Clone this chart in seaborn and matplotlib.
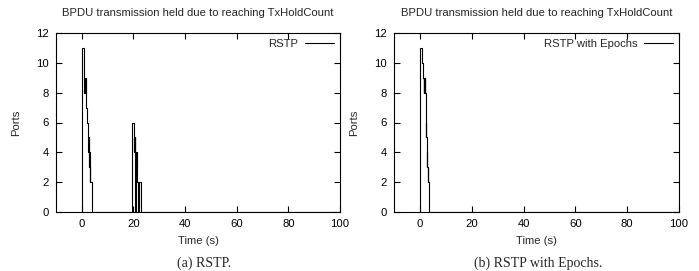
import matplotlib
matplotlib.use("Agg")
import matplotlib.pyplot as plt
import seaborn as sns
import pandas as pd

# ---- data ----
rstp_t = [-0.1, 0.0, 0.9, 1.0, 1.1, 1.2, 1.3, 1.4, 1.5, 1.6, 1.7, 2.0, 2.3, 2.5, 2.6, 2.7,
          2.8, 2.9, 3.0, 3.1, 3.2, 3.9,
          19.6, 20.2, 20.3, 20.4, 20.5, 20.6, 20.7, 20.8, 20.9, 21.0, 21.1, 21.2, 21.3,
          21.4, 21.9, 22.0, 22.9, 100.0]
rstp_v = [0, 11, 9, 8, 9, 8, 9, 8, 9, 8, 7, 6, 5, 4, 5, 4,
          3, 4, 2, 3, 2, 0,
          6, 5, 4, 5, 4, 5, 0, 4, 3, 4, 3, 4, 3,
          2, 0, 2, 0, 0]

epoch_t = [-0.1, 0.0, 0.9, 1.3, 1.4, 1.5, 1.6, 1.7, 1.8, 1.9, 2.0, 2.2, 2.3, 2.4, 2.5,
           2.6, 2.7, 2.8, 2.9, 3.0, 3.1, 3.2, 3.5, 100.0]
epoch_v = [0, 11, 10, 9, 8, 9, 8, 9, 8, 9, 8, 6, 5, 6, 5,
           4, 3, 4, 3, 2, 3, 2, 0, 0]

series_names = ["RSTP", "RSTP with Epochs"]
captions = ["(a) RSTP.", "(b) RSTP with Epochs."]
title_text = "BPDU transmission held due to reaching TxHoldCount"
x_ticks = [0, 20, 40, 60, 80, 100]
y_ticks = [0, 2, 4, 6, 8, 10, 12]

sns.set_style("ticks")
plt.rcParams['font.family'] = ['Liberation Sans', 'DejaVu Sans']

W, H = 699, 271
fig = plt.figure(figsize=(W / 100, H / 100), dpi=100)

boxes = [(56, 340), (394, 679)]
caption_x = [204, 538]
top_px, bot_px = 33, 212
datasets = [(rstp_t, rstp_v), (epoch_t, epoch_v)]
fs = 8.1

for i, ((l, r), (t, v)) in enumerate(zip(boxes, datasets)):
    ax = fig.add_axes([l / W, 1 - bot_px / H, (r - l) / W, (bot_px - top_px) / H])
    df = pd.DataFrame({"Time": t, "Ports": v})
    sns.lineplot(data=df, x="Time", y="Ports", ax=ax, estimator=None, sort=False,
                 drawstyle="steps-post", color="black", linewidth=0.8,
                 label=series_names[i])
    ax.set_xlim(-10, 100)
    ax.set_ylim(0, 12)
    ax.set_xticks(x_ticks)
    ax.set_yticks(y_ticks)
    ax.tick_params(direction="in", top=True, right=True, length=4, width=0.8,
                   labelsize=fs, pad=5, colors="black")
    for s in ax.spines.values():
        s.set_linewidth(0.8)
        s.set_color("black")
    ax.set_xlabel("Time (s)", fontsize=fs, labelpad=5)
    ax.set_ylabel("Ports", fontsize=fs, labelpad=11)
    ax.set_title(title_text, fontsize=fs, pad=12)
    ax.legend(loc="upper right", frameon=False, markerfirst=False, fontsize=fs,
              handlelength=2.6, borderaxespad=0.1, handletextpad=0.6)
    fig.text(caption_x[i] / W, 1 - 263 / H, captions[i], ha="center", va="center",
             fontsize=10, family=["Liberation Serif", "DejaVu Serif"])

fig.savefig("out.png", dpi=100)
